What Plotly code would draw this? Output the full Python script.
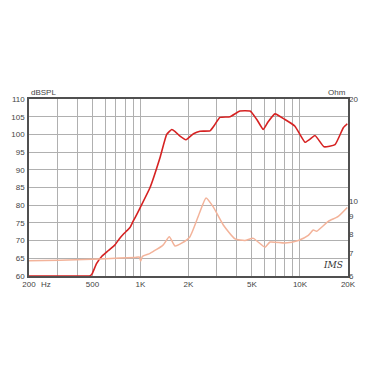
import plotly.graph_objects as go
import math

spl_freq = [200, 300, 400, 480, 497, 530, 571, 630, 692, 740, 788, 822, 859, 898, 950, 1003, 1148, 1325,
            1460, 1570, 1650, 1770, 1928, 2150, 2361, 2729, 2900, 3148, 3640, 4205, 4860, 4980, 5400, 5888,
            6300, 6971, 8054, 9300, 10740, 11500, 12420, 14160, 16580, 18700, 19800]
spl_db = [60, 60, 60, 60, 60.6, 63.5, 65.5, 67.2, 68.8, 70.6, 72, 72.8, 73.7, 75.4, 77.5, 79.6, 85, 93.4,
          100, 101.4, 100.8, 99.5, 98.5, 100.2, 100.9, 101, 102.5, 104.8, 105, 106.6, 106.6, 106.2, 104, 101.4,
          103.5, 105.8, 104.2, 102.3, 97.8, 98.6, 99.7, 96.5, 97.1, 101.9, 103]

imp_freq = [200, 313, 497, 745, 925, 985, 1003, 1030, 1148, 1384, 1516, 1645, 1812, 2043, 2361, 2576,
            2858, 3305, 3915, 4520, 5094, 6040, 6488, 8054, 9756, 11270, 12110, 12730, 15040, 17380, 19800]
imp_ohm = [6.66, 6.68, 6.72, 6.78, 6.81, 6.82, 6.64, 6.86, 7.0, 7.4, 7.84, 7.36, 7.5, 7.84, 9.29, 10.2,
           9.6, 8.49, 7.72, 7.64, 7.75, 7.30, 7.56, 7.51, 7.64, 7.91, 8.2, 8.14, 8.7, 9.0, 9.56]

x_grid = [200, 300, 400, 500, 600, 700, 800, 900, 1000, 2000, 3000, 4000, 5000, 6000, 7000, 8000, 9000,
          10000, 20000]
x_labels = {200: "200", 500: "500", 1000: "1K", 2000: "2K", 5000: "5K", 10000: "10K", 20000: "20K"}
y_ticks = [60, 65, 70, 75, 80, 85, 90, 95, 100, 105, 110]
ohm_ticks = [6, 7, 8, 9, 10, 20]

fig = go.Figure()
fig.add_trace(go.Scatter(x=imp_freq, y=imp_ohm, mode="lines", yaxis="y2",
                         line=dict(color="#f3b39a", width=1.5, shape="spline", smoothing=0.5),
                         hoverinfo="skip"))
fig.add_trace(go.Scatter(x=spl_freq, y=spl_db, mode="lines",
                         line=dict(color="#d62222", width=1.6, shape="spline", smoothing=0.4),
                         hoverinfo="skip"))

font = dict(family="Liberation Sans, Arial", size=8, color="#444")
fig.update_layout(
    width=375, height=375, margin=dict(l=29, r=27, t=99, b=99),
    paper_bgcolor="white", plot_bgcolor="white", showlegend=False,
    font=font,
    xaxis=dict(type="log", range=[math.log10(200), math.log10(20000)],
               tickvals=x_grid, ticktext=[x_labels.get(v, "") for v in x_grid],
               showgrid=True, gridcolor="#b0b0b0", gridwidth=1, ticks="", ticklen=0,
               showline=True, linecolor="#505050", linewidth=1.5, mirror=True, zeroline=False,
               tickfont=font, layer="below traces"),
    yaxis=dict(range=[60, 110], tickvals=y_ticks, showgrid=True, gridcolor="#b0b0b0",
               gridwidth=1, ticks="", showline=True, linecolor="#505050", linewidth=1.5, mirror=True,
               zeroline=False, tickfont=font, ticklabelstandoff=1, layer="below traces"),
    yaxis2=dict(type="log", range=[math.log10(6), math.log10(20)], overlaying="y", side="right",
                tickvals=ohm_ticks, showgrid=False, zeroline=False, ticks="", tickfont=font,
                showline=False),
)
fig.add_annotation(x=0, y=1, xref="paper", yref="paper", text="dBSPL", showarrow=False,
                   xanchor="left", yanchor="bottom", font=font, yshift=0)
fig.add_annotation(x=1, y=1, xref="paper", yref="paper", text="Ohm", showarrow=False,
                   xanchor="right", yanchor="bottom", font=font)
fig.add_annotation(x=0, y=0, xref="paper", yref="paper", text="Hz", showarrow=False,
                   xanchor="left", yanchor="top", font=font, xshift=10, yshift=-2)
fig.add_annotation(x=0.99, y=0.02, xref="paper", yref="paper", text="<i>IMS</i>", showarrow=False,
                   xanchor="right", yanchor="bottom",
                   font=dict(family="DejaVu Serif", size=9, color="#333"))
fig.write_html("out.html")
